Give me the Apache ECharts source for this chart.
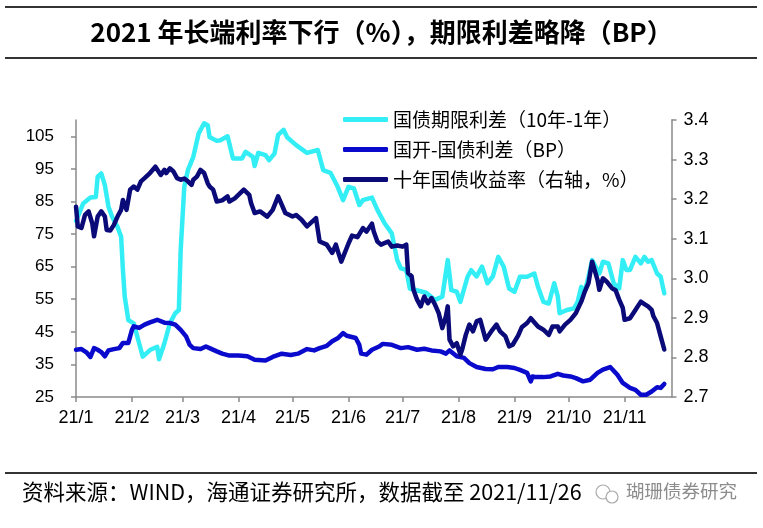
<!DOCTYPE html>
<html><head><meta charset="utf-8">
<script src="https://cdn.jsdelivr.net/npm/echarts@6/dist/echarts.min.js"></script>
<style>html,body{margin:0;padding:0;background:#fff}#c{width:763px;height:528px}</style>
</head><body><div id="c"></div>
<script>
// 国债期限利差（10年-1年），BP — left axis
const termDates = ['2021-01-01','2021-01-05','2021-01-09','2021-01-12','2021-01-13','2021-01-15','2021-01-17','2021-01-19','2021-01-21','2021-01-24','2021-01-26','2021-01-27','2021-01-28','2021-01-30','2021-02-02','2021-02-04','2021-02-07','2021-02-11','2021-02-15','2021-02-16','2021-02-19','2021-02-22','2021-02-25','2021-02-27','2021-02-28','2021-03-02','2021-03-04','2021-03-07','2021-03-10','2021-03-13','2021-03-15','2021-03-16','2021-03-20','2021-03-22','2021-03-26','2021-03-29','2021-04-03','2021-04-05','2021-04-09','2021-04-10','2021-04-12','2021-04-16','2021-04-18','2021-04-21','2021-04-23','2021-04-26','2021-04-28','2021-05-03','2021-05-09','2021-05-15','2021-05-18','2021-05-22','2021-05-26','2021-05-29','2021-06-01','2021-06-04','2021-06-07','2021-06-09','2021-06-14','2021-06-17','2021-06-21','2021-06-25','2021-06-28','2021-06-30','2021-07-03','2021-07-05','2021-07-14','2021-07-19','2021-07-23','2021-07-26','2021-07-28','2021-07-31','2021-08-02','2021-08-06','2021-08-08','2021-08-11','2021-08-14','2021-08-17','2021-08-20','2021-08-23','2021-08-26','2021-08-29','2021-09-01','2021-09-04','2021-09-08','2021-09-12','2021-09-14','2021-09-17','2021-09-20','2021-09-23','2021-09-25','2021-09-26','2021-09-30','2021-10-04','2021-10-06','2021-10-08','2021-10-10','2021-10-12','2021-10-14','2021-10-18','2021-10-20','2021-10-23','2021-10-26','2021-10-29','2021-10-31','2021-11-02','2021-11-04','2021-11-07','2021-11-10','2021-11-12','2021-11-14','2021-11-16','2021-11-19','2021-11-21','2021-11-23'];
const termValues = [79,84.4,86.2,86.4,92.6,93.6,90,83.4,80.3,77.2,74.2,64,55.8,48.6,47.6,43.5,37.4,39.4,40.4,36.6,41.5,47.6,50.7,51.7,70,89.5,94.6,98.7,105.9,109,108.4,104.8,103.6,103.8,105,98.2,98.2,100.2,98.7,95.9,99.9,99.2,97.7,99.7,105.4,107,104.7,102.3,99.9,100.8,94.6,93.8,89.5,85.4,89.5,89,83.9,85.4,86.2,82.4,78.3,75.2,67,64.5,64,58.3,57,54.8,55.8,67,57.8,57.3,54.2,61.9,63.9,62,65,59.9,62,68,65,58.3,57.3,61.9,61.9,62.9,58.8,54.2,53.7,59.9,55.8,50.7,51.7,52.2,54.2,58.8,57.5,61.9,67,62.9,66.5,66,59.9,58.3,67,64,64,68,66,68,66.5,67,62.9,61.9,56.8];

// 国开-国债利差（BP）— left axis
const cdbDates = ['2021-01-01','2021-01-04','2021-01-07','2021-01-09','2021-01-11','2021-01-13','2021-01-15','2021-01-17','2021-01-19','2021-01-22','2021-01-25','2021-01-27','2021-01-28','2021-01-30','2021-02-01','2021-02-02','2021-02-05','2021-02-08','2021-02-11','2021-02-15','2021-02-19','2021-02-22','2021-02-25','2021-02-28','2021-03-03','2021-03-05','2021-03-07','2021-03-11','2021-03-14','2021-03-16','2021-03-20','2021-03-23','2021-03-27','2021-04-01','2021-04-06','2021-04-10','2021-04-16','2021-04-20','2021-04-25','2021-04-30','2021-05-04','2021-05-09','2021-05-13','2021-05-16','2021-05-20','2021-05-23','2021-05-26','2021-05-29','2021-05-31','2021-06-05','2021-06-07','2021-06-08','2021-06-11','2021-06-14','2021-06-18','2021-06-20','2021-06-25','2021-06-30','2021-07-04','2021-07-09','2021-07-13','2021-07-17','2021-07-22','2021-07-25','2021-07-27','2021-07-31','2021-08-04','2021-08-07','2021-08-11','2021-08-16','2021-08-20','2021-08-23','2021-08-28','2021-09-01','2021-09-04','2021-09-08','2021-09-10','2021-09-11','2021-09-13','2021-09-17','2021-09-21','2021-09-25','2021-09-28','2021-10-02','2021-10-05','2021-10-09','2021-10-13','2021-10-17','2021-10-20','2021-10-24','2021-10-28','2021-10-31','2021-11-04','2021-11-07','2021-11-10','2021-11-13','2021-11-16','2021-11-19','2021-11-21','2021-11-23'];
const cdbValues = [39.5,39.7,38.6,37.3,40,39.5,38.8,37.5,39.3,39.7,40,41.6,41.1,41.6,45.6,46.7,46.2,47.2,47.9,48.7,47.8,47.7,47.2,45.6,43.6,41,40,39.7,40.5,40,39,38.3,37.7,37.7,37.5,36.4,36.2,37.3,38.3,37.9,38.3,39.7,39.3,40,40.7,42.1,43,44.6,43.8,43.1,41,38.3,38,39.5,40.5,41.3,41,40,40.3,39.5,39.8,39.3,39,38.3,39.3,37.5,37,35.4,34.2,33.6,33.5,34.2,34.2,33.9,33.3,32.4,29.8,31.3,31.1,31.1,31.3,32.1,31.6,31.3,30.8,29.8,30.3,32.4,33.4,34.2,31.8,29.3,27.8,27.2,25.7,25.7,26.7,28,27.8,29];

// 十年国债收益率（右轴，%）
const yieldDates = ['2021-01-01','2021-01-02','2021-01-04','2021-01-06','2021-01-08','2021-01-10','2021-01-11','2021-01-13','2021-01-15','2021-01-17','2021-01-18','2021-01-20','2021-01-22','2021-01-24','2021-01-26','2021-01-27','2021-01-29','2021-01-31','2021-02-02','2021-02-04','2021-02-06','2021-02-08','2021-02-11','2021-02-14','2021-02-15','2021-02-17','2021-02-19','2021-02-20','2021-02-22','2021-02-24','2021-02-26','2021-02-28','2021-03-02','2021-03-04','2021-03-06','2021-03-07','2021-03-09','2021-03-11','2021-03-13','2021-03-15','2021-03-16','2021-03-18','2021-03-20','2021-03-23','2021-03-26','2021-03-27','2021-03-30','2021-04-04','2021-04-07','2021-04-08','2021-04-10','2021-04-13','2021-04-17','2021-04-20','2021-04-23','2021-04-25','2021-04-27','2021-05-01','2021-05-03','2021-05-06','2021-05-09','2021-05-14','2021-05-16','2021-05-20','2021-05-23','2021-05-25','2021-05-26','2021-05-28','2021-06-01','2021-06-03','2021-06-06','2021-06-09','2021-06-11','2021-06-14','2021-06-15','2021-06-17','2021-06-19','2021-06-23','2021-06-25','2021-06-28','2021-07-01','2021-07-03','2021-07-04','2021-07-06','2021-07-07','2021-07-09','2021-07-11','2021-07-13','2021-07-15','2021-07-17','2021-07-19','2021-07-21','2021-07-23','2021-07-25','2021-07-26','2021-07-27','2021-07-29','2021-07-31','2021-08-02','2021-08-03','2021-08-05','2021-08-07','2021-08-09','2021-08-11','2021-08-13','2021-08-16','2021-08-19','2021-08-20','2021-08-22','2021-08-24','2021-08-27','2021-08-29','2021-08-31','2021-09-03','2021-09-05','2021-09-08','2021-09-10','2021-09-11','2021-09-14','2021-09-17','2021-09-20','2021-09-22','2021-09-25','2021-09-26','2021-09-29','2021-10-02','2021-10-05','2021-10-08','2021-10-10','2021-10-12','2021-10-14','2021-10-15','2021-10-17','2021-10-18','2021-10-20','2021-10-22','2021-10-25','2021-10-27','2021-10-29','2021-10-31','2021-11-01','2021-11-04','2021-11-07','2021-11-10','2021-11-12','2021-11-14','2021-11-16','2021-11-17','2021-11-19','2021-11-21','2021-11-23'];
const yieldValues = [3.181,3.131,3.127,3.160,3.169,3.139,3.106,3.156,3.169,3.156,3.122,3.121,3.135,3.156,3.173,3.198,3.173,3.224,3.232,3.224,3.245,3.253,3.266,3.282,3.287,3.261,3.274,3.266,3.278,3.270,3.253,3.249,3.252,3.245,3.236,3.249,3.257,3.274,3.266,3.240,3.232,3.224,3.194,3.197,3.207,3.194,3.202,3.224,3.211,3.19,3.165,3.169,3.156,3.173,3.207,3.186,3.165,3.156,3.160,3.148,3.131,3.152,3.093,3.085,3.064,3.085,3.07,3.042,3.088,3.108,3.104,3.127,3.118,3.138,3.118,3.093,3.085,3.093,3.080,3.083,3.080,3.085,3.013,3.005,2.971,2.946,2.929,2.954,2.937,2.950,2.933,2.912,2.874,2.904,2.929,2.845,2.828,2.836,2.807,2.82,2.857,2.883,2.866,2.891,2.895,2.845,2.865,2.866,2.883,2.866,2.853,2.828,2.832,2.855,2.876,2.887,2.899,2.899,2.878,2.870,2.857,2.878,2.878,2.866,2.883,2.895,2.912,2.941,2.967,2.988,3.042,3.047,2.996,2.971,3.000,2.992,2.975,2.97,2.946,2.925,2.895,2.899,2.920,2.941,2.935,2.929,2.920,2.904,2.887,2.853,2.820];

const leftTicks = [25,35,45,55,65,75,85,95,105];
const monthStarts = ['2021-01-01','2021-02-01','2021-03-01','2021-04-01','2021-05-01','2021-06-01','2021-07-01','2021-08-01','2021-09-01','2021-10-01','2021-11-01'];
const xMinDate = '2021-01-01';
const xMaxDate = '2021-11-27';
const seriesNames = ['国债期限利差（10年-1年）','国开-国债利差（BP）','十年国债收益率（右轴，%）'];
const titleText = '2021 年长端利率下行（%），期限利差略降（BP）';
const sourceText = '资料来源：WIND，海通证券研究所，数据截至 2021/11/26';
const watermarkText = '瑚珊债券研究';

const toTime = s => { const p = s.split('-').map(Number); return new Date(p[0], p[1] - 1, p[2]).getTime(); };
const zip = (d, v) => d.map((x, i) => [toTime(x), v[i]]);
const monthTicks = monthStarts.map(toTime);
const axisColor = '#8a8a8a';
const labelFont = { color: '#000', fontFamily: 'Liberation Sans, Arial, sans-serif', fontSize: 18 };

const chart = echarts.init(document.getElementById('c'), null, { renderer: 'canvas' });
chart.setOption({
  animation: false,
  backgroundColor: '#fff',
  grid: { left: 76, right: 91.5, top: 120, bottom: 131, containLabel: false },
  legend: {
    orient: 'vertical', left: 343, top: 110, padding: 0,
    itemWidth: 45, itemHeight: 5, itemGap: 11, icon: 'roundRect',
    textStyle: { color: '#000', fontSize: 19, fontFamily: 'Noto Sans CJK SC, sans-serif' },
    data: seriesNames
  },
  xAxis: {
    type: 'value',
    min: toTime(xMinDate),
    max: toTime(xMaxDate),
    axisLine: { lineStyle: { color: axisColor, width: 1.5 } },
    axisTick: { show: true, length: 5, customValues: monthTicks, lineStyle: { color: axisColor, width: 1.5 } },
    axisLabel: Object.assign({ margin: 12, customValues: monthTicks, hideOverlap: false,
      formatter: v => '21/' + (new Date(v).getMonth() + 1) }, labelFont),
    splitLine: { show: false }
  },
  yAxis: [
    {
      type: 'value', min: 25, max: 110, position: 'left',
      axisLine: { show: true, lineStyle: { color: axisColor, width: 1.5 } },
      axisTick: { show: true, length: 5, customValues: leftTicks, lineStyle: { color: axisColor, width: 1.5 } },
      axisLabel: Object.assign({ margin: 22, customValues: leftTicks }, labelFont, { fontSize: 17 }),
      splitLine: { show: false }
    },
    {
      type: 'value', min: 2.7, max: 3.4, interval: 0.1, position: 'right',
      axisLine: { show: true, lineStyle: { color: axisColor, width: 1.5 } },
      axisTick: { show: true, length: 5, lineStyle: { color: axisColor, width: 1.5 } },
      axisLabel: Object.assign({ margin: 12, formatter: v => v.toFixed(1) }, labelFont),
      splitLine: { show: false }
    }
  ],
  series: [
    { name: seriesNames[0], type: 'line', yAxisIndex: 0, data: zip(termDates, termValues),
      showSymbol: false, symbol: 'none', lineStyle: { color: '#33EEF5', width: 4.5, join: 'round', cap: 'round' },
      itemStyle: { color: '#33EEF5' }, z: 2 },
    { name: seriesNames[1], type: 'line', yAxisIndex: 0, data: zip(cdbDates, cdbValues),
      showSymbol: false, symbol: 'none', lineStyle: { color: '#0A0ACD', width: 4.5, join: 'round', cap: 'round' },
      itemStyle: { color: '#0A0ACD' }, z: 3 },
    { name: seriesNames[2], type: 'line', yAxisIndex: 1, data: zip(yieldDates, yieldValues),
      showSymbol: false, symbol: 'none', lineStyle: { color: '#0A0A78', width: 4.5, join: 'round', cap: 'round' },
      itemStyle: { color: '#0A0A78' }, z: 4 }
  ],
  graphic: [
    { type: 'line', shape: { x1: 5, y1: 7, x2: 757, y2: 7 }, style: { stroke: '#333', lineWidth: 2 } },
    { type: 'text', left: 'center', top: 19, style: { text: titleText, fill: '#000',
      font: 'bold 26px "Noto Sans CJK SC", sans-serif' } },
    { type: 'line', shape: { x1: 5, y1: 58, x2: 757, y2: 58 }, style: { stroke: '#333', lineWidth: 2 } },
    { type: 'line', shape: { x1: 5, y1: 473, x2: 757, y2: 473 }, style: { stroke: '#333', lineWidth: 2 } },
    { type: 'text', left: 22, top: 481, style: { text: sourceText, fill: '#000',
      font: '21.5px "Noto Sans CJK SC", sans-serif' } },
    { type: 'circle', shape: { cx: 603, cy: 492, r: 7 }, style: { fill: 'none', stroke: '#aaa', lineWidth: 1.2 } },
    { type: 'circle', shape: { cx: 612, cy: 497, r: 6 }, style: { fill: '#fff', stroke: '#aaa', lineWidth: 1.2 } },
    { type: 'text', left: 626, top: 482, style: { text: watermarkText, fill: '#8c8c8c',
      font: '18.5px "Noto Sans CJK SC", sans-serif' } }
  ]
});
</script></body></html>
